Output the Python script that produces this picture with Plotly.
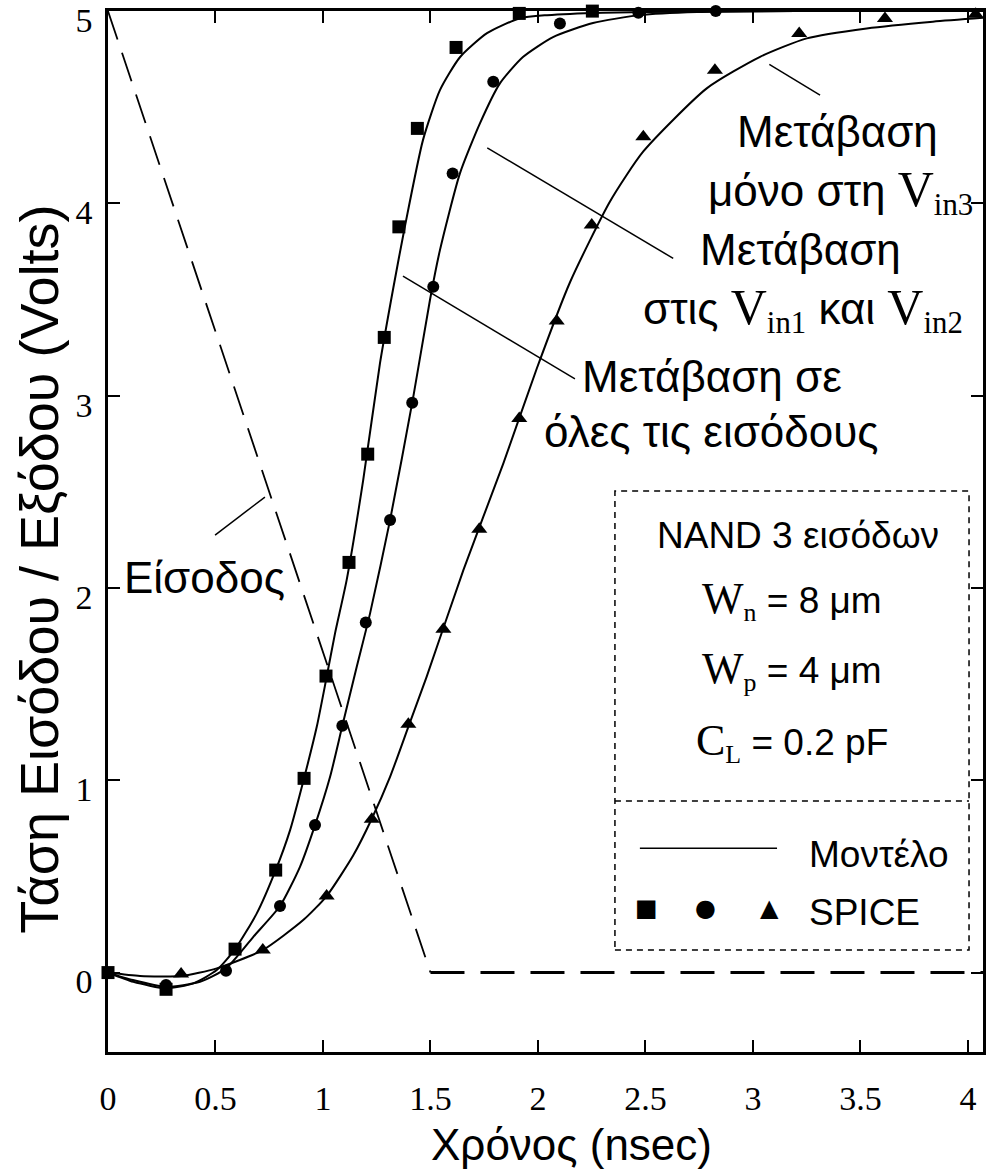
import plotly.graph_objects as go

# ---------------------------------------------------------------------------
# 3-input NAND gate: output voltage vs time (ns), analytic model vs SPICE
# ---------------------------------------------------------------------------

# Input ramp (falling 5 V -> 0 V in 1.5 ns)
input_t = [0.0, 1.5, 4.07]
input_v = [5.0, 0.0, 0.0]

# Model curve: transition on all inputs
model_all_t = [0.0, 0.118, 0.270, 0.397, 0.506, 0.591, 0.692, 0.780, 0.847, 0.912,
               0.971, 1.014, 1.056, 1.110, 1.187, 1.265, 1.327, 1.381, 1.465, 1.544,
               1.637, 1.763, 1.916, 2.042, 2.300, 2.700, 3.200, 4.070]
model_all_v = [0.0, -0.048, -0.082, -0.056, 0.013, 0.122, 0.308, 0.533, 0.741, 1.011,
               1.278, 1.520, 1.764, 2.041, 2.561, 3.168, 3.560, 3.880, 4.329, 4.589,
               4.760, 4.885, 4.963, 4.979, 4.992, 4.997, 5.0, 5.0]

# Model curve: transition on Vin1 and Vin2
model_12_t = [0.0, 0.116, 0.270, 0.428, 0.549, 0.676, 0.800, 0.893, 0.963, 1.033,
              1.090, 1.157, 1.219, 1.312, 1.420, 1.498, 1.544, 1.637, 1.730, 1.823,
              1.930, 2.070, 2.256, 2.474, 2.740, 3.200, 4.070]
model_12_v = [0.0, -0.039, -0.074, -0.048, 0.022, 0.186, 0.346, 0.550, 0.767, 1.018,
              1.283, 1.590, 1.868, 2.353, 2.994, 3.500, 3.757, 4.156, 4.416, 4.624,
              4.761, 4.865, 4.938, 4.979, 4.995, 5.0, 5.0]

# Model curve: transition on Vin3 only
model_3_t = [0.0, 0.149, 0.340, 0.506, 0.720, 0.908, 1.017, 1.141, 1.227, 1.312,
             1.397, 1.482, 1.653, 1.839, 1.994, 2.149, 2.335, 2.490, 2.785, 3.033,
             3.250, 3.529, 3.837, 4.070]
model_3_v = [0.0, -0.018, -0.018, 0.022, 0.117, 0.273, 0.398, 0.610, 0.800, 1.018,
             1.278, 1.538, 2.093, 2.648, 3.140, 3.590, 4.010, 4.270, 4.598, 4.762,
             4.858, 4.910, 4.945, 4.965]

# SPICE samples
spice_all_t = [0.0, 0.270, 0.591, 0.780, 0.912, 1.014, 1.121, 1.208, 1.285, 1.353,
               1.439, 1.619, 1.913, 2.253]
spice_all_v = [0.0, -0.087, 0.122, 0.533, 1.010, 1.542, 2.133, 2.696, 3.303, 3.878,
               4.390, 4.811, 4.988, 5.0]

spice_12_t = [0.270, 0.549, 0.800, 0.963, 1.090, 1.199, 1.312, 1.415, 1.513, 1.603,
              1.792, 2.102, 2.467, 2.827]
spice_12_v = [-0.065, 0.009, 0.346, 0.767, 1.283, 1.821, 2.353, 2.963, 3.566, 4.156,
              4.632, 4.936, 4.991, 5.0]

spice_3_t = [0.340, 0.720, 1.017, 1.227, 1.397, 1.560, 1.727, 1.913, 2.087, 2.250,
             2.490, 2.823, 3.215, 3.614, 4.036]
spice_3_v = [-0.008, 0.117, 0.398, 0.797, 1.292, 1.785, 2.305, 2.882, 3.389, 3.887,
             4.346, 4.693, 4.884, 4.962, 4.984]

x_tick_vals = [0, 0.5, 1, 1.5, 2, 2.5, 3, 3.5, 4]
x_tick_text = ["0", "0.5", "1", "1.5", "2", "2.5", "3", "3.5", "4"]
y_tick_vals = [0, 1, 2, 3, 4, 5]
y_tick_text = ["0", "1", "2", "3", "4", "5"]

SANS = "Liberation Sans, Arial, sans-serif"
SERIF = "Liberation Serif, Times New Roman, serif"
INK = "black"

fig = go.Figure()

# Input waveform: sloped part thin dashes, flat part heavier dashes
fig.add_trace(go.Scatter(x=input_t[:2], y=input_v[:2], mode="lines",
                         line=dict(color=INK, width=1.8, dash="30px,14px"),
                         hoverinfo="skip", showlegend=False))
fig.add_trace(go.Scatter(x=input_t[1:], y=input_v[1:], mode="lines",
                         line=dict(color=INK, width=3, dash="34px,16px"),
                         hoverinfo="skip", showlegend=False))

for t, v in [(model_all_t, model_all_v), (model_12_t, model_12_v), (model_3_t, model_3_v)]:
    fig.add_trace(go.Scatter(x=t, y=v, mode="lines",
                             line=dict(color=INK, width=2, shape="spline", smoothing=0.6),
                             hoverinfo="skip", showlegend=False))

for t, v, sym, size in [(spice_all_t, spice_all_v, "square", 13),
                        (spice_12_t, spice_12_v, "circle", 12),
                        (spice_3_t, spice_3_v, "triangle-up", 14)]:
    fig.add_trace(go.Scatter(x=t, y=v, mode="markers", cliponaxis=False,
                             marker=dict(symbol=sym, size=size, color=INK,
                                         line=dict(width=0)),
                             hoverinfo="skip", showlegend=False))

# Leader lines from curve labels
leaders = [
    ((3.076, 4.723), (3.312, 4.563)),
    ((1.764, 4.289), (2.629, 3.714)),
    ((1.372, 3.622), (2.172, 3.087)),
    ((0.498, 2.275), (0.730, 2.473)),
]
shapes = []
for (x0, y0), (x1, y1) in leaders:
    shapes.append(dict(type="line", xref="x", yref="y", x0=x0, y0=y0, x1=x1, y1=y1,
                       line=dict(color=INK, width=1.5)))

# Parameter / key box
shapes.append(dict(type="rect", xref="x", yref="y", x0=2.358, x1=4.005, y0=0.117, y1=2.504,
                   line=dict(color=INK, width=1.5, dash="6px,5px")))
shapes.append(dict(type="line", xref="x", yref="y", x0=2.358, x1=4.005, y0=0.892, y1=0.892,
                   line=dict(color=INK, width=1.5, dash="6px,5px")))
shapes.append(dict(type="line", xref="x", yref="y", x0=2.474, x1=3.112, y0=0.647, y1=0.647,
                   line=dict(color=INK, width=1.5)))


def V(sub):
    return (f'<span style="font-family:{SERIF};font-size:50px">V</span>'
            f'<sub><span style="font-family:{SERIF}">{sub}</span></sub>')


def sym_serif(letter, sub):
    return (f'<span style="font-family:{SERIF};font-size:44px">{letter}</span>'
            f'<sub><span style="font-family:{SERIF}">{sub}</span></sub>')


ann = []


def label(text, x, y, size=44, font=SANS, xanchor="center"):
    ann.append(dict(text=text, x=x, y=y, xref="x", yref="y", showarrow=False,
                    xanchor=xanchor, yanchor="middle",
                    font=dict(family=font, size=size, color=INK)))


label("Μετάβαση", 3.391, 4.373)
label("μόνο στη " + V("in3"), 3.405, 4.064)
label("Μετάβαση", 3.223, 3.759)
label("στις " + V("in1") + " και " + V("in2"), 3.233, 3.450)
label("Μετάβαση σε", 2.809, 3.099)
label("όλες τις εισόδους", 2.809, 2.813)
label("Είσοδος", 0.451, 2.054)

label("NAND 3 εισόδων", 3.209, 2.275, size=37)
label(sym_serif("W", "n") + " = 8 μm", 3.181, 1.937, size=37)
label(sym_serif("W", "p") + " = 4 μm", 3.181, 1.573, size=37)
label(sym_serif("C", "L") + " = 0.2 pF", 3.181, 1.199, size=37)
label("Μοντέλο", 3.251, 0.616, size=37, xanchor="left")
label("SPICE", 3.251, 0.315, size=37, xanchor="left")
label("■", 2.507, 0.336, size=24, font="DejaVu Sans")
label("●", 2.781, 0.336, size=24, font="DejaVu Sans")
label("▲", 3.079, 0.336, size=24, font="DejaVu Sans")

# Axis titles
ann.append(dict(text="Χρόνος (nsec)", x=0.530, y=-0.0893, xref="paper", yref="paper",
                showarrow=False, xanchor="center", yanchor="middle",
                font=dict(family=SANS, size=44, color=INK)))
ann.append(dict(text="Τάση Εισόδου / Εξόδου (Volts)", x=-0.079, y=2.10,
                xref="paper", yref="y", showarrow=False, textangle=-90,
                xanchor="center", yanchor="middle",
                font=dict(family=SANS, size=54, color=INK)))

axis_common = dict(showline=True, linecolor=INK, linewidth=2.5, mirror="ticks",
                   ticks="inside", ticklen=12, tickwidth=2, tickcolor=INK,
                   showgrid=False, zeroline=False, automargin=False,
                   ticklabeloverflow="allow",
                   tickfont=dict(family=SERIF, size=34, color=INK))

fig.update_layout(
    width=991, height=1173,
    margin=dict(l=108, r=8, t=11, b=121, autoexpand=False),
    paper_bgcolor="white", plot_bgcolor="white",
    showlegend=False,
    xaxis=dict(range=[0, 4.07], tickvals=x_tick_vals, ticktext=x_tick_text,
               ticklabelstandoff=14, **axis_common),
    yaxis=dict(range=[-0.413, 5.0005], tickvals=y_tick_vals, ticktext=y_tick_text,
               ticklabelstandoff=6, ticklabelshift=9, **axis_common),
    shapes=shapes,
    annotations=ann,
)

fig.write_html("out.html")
